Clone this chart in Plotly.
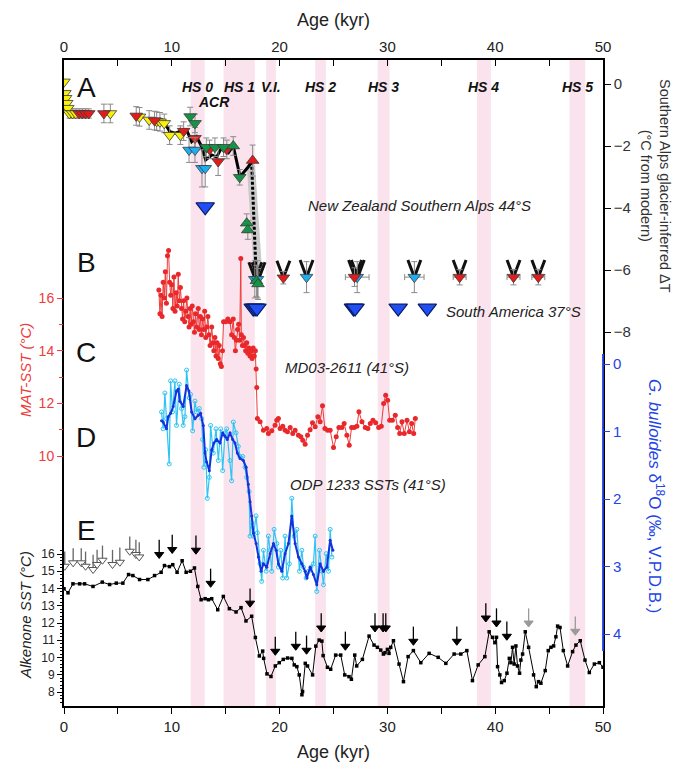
import numpy as np
import plotly.graph_objects as go

# ---------------- data ----------------
hs_labels = ["HS 0", "HS 1", "V.I.", "HS 2", "HS 3", "HS 4", "HS 5"]
hs_start = [11.75, 14.8, 18.75, 23.3, 29.1, 38.3, 46.9]
hs_end = [13.05, 17.7, 19.65, 24.3, 30.2, 39.6, 48.35]

# (A) New Zealand Southern Alps glacier-inferred dT (degC from modern)
nzY_age = [0.0, 0.08, 0.15, 0.25, 0.35, 0.5, 0.8, 1.1, 4.3, 7.0, 7.9, 8.6, 8.9, 9.3, 9.8, 10.8]
nzY_dt = [0.07, -0.30, -0.46, -0.62, -0.78, -0.95, -0.95, -0.95, -0.95, -1.06, -1.16, -1.20, -1.22, -1.27, -1.65, -1.65]
nzY_err = [0, 0, 0, 0, 0, 0.15, 0.15, 0.15, 0.3, 0.3, 0.3, 0.3, 0.3, 0.3, 0.3, 0.3]
nzR_age = [1.4, 1.7, 2.0, 2.3, 3.7, 6.7, 8.4, 11.1, 12.15, 13.5, 14.3, 15.1]
nzR_dt = [-0.95, -0.95, -0.95, -0.95, -0.95, -1.03, -1.18, -1.52, -1.75, -2.11, -2.50, -2.11]
nzR_err = [0.15, 0.15, 0.15, 0.15, 0.3, 0.3, 0.3, 0.3, 0.35, 0.3, 0.45, 0.3]
nzRup_age = [17.5]
nzRup_dt = [-2.47]
nzRup_err = [0.5]
nzG_age = [11.7, 12.15, 13.2, 14.0, 14.8, 16.3]
nzG_dt = [-1.05, -1.27, -2.04, -2.04, -2.04, -3.01]
nzG_err = [0.3, 0.3, 0.3, 0.3, 0.3, 0.25]
nzGup_age = [15.7, 16.95, 17.05]
nzGup_dt = [-2.0, -4.49, -4.71]
nzGup_err = [0.3, 0.3, 0.3]
nzC_age = [11.6, 12.15, 12.8, 13.1]
nzC_dt = [-2.13, -2.13, -2.72, -2.72]
nzC_err = [0.4, 0.4, 0.6, 0.6]
nz_mean_age = [8.3, 8.43, 8.9, 9.36, 9.82, 10.29, 10.9, 11.37, 11.84, 12.3, 12.77, 13.14, 13.7,
               14.16, 14.6, 15.25, 15.7, 16.33, 17.1, 17.4]
nz_mean_dt = [-1.18, -1.22, -1.24, -1.27, -1.54, -1.59, -1.51, -1.48, -1.86, -1.70, -2.02, -2.45, -2.29,
              -2.36, -2.07, -2.22, -2.0, -2.99, -2.67, -2.51]
drop_age = [17.4, 17.8]
drop_dt = [-2.51, -5.94]
env_age = [16.95, 17.72, 18.35, 17.57, 16.95]
env_dt = [-2.6, -2.6, -5.9, -5.9, -2.6]

# (B) glacier points at the LGM level
bC_age = [17.7, 17.95, 22.5, 27.2, 32.5]
bC_dt = [-6.3, -6.3, -6.23, -6.23, -6.23]
bC_err = [0.6, 0.6, 0.5, 0.5, 0.5]
bC_xerr = [0.3, 0.3, 0.0, 1.1, 0.9]
bR_age = [20.35, 26.95, 36.7, 41.7, 44.0]
bR_dt = [-6.25, -6.23, -6.23, -6.23, -6.23]
bR_err = [0.2, 0.3, 0.25, 0.25, 0.25]
bR_xerr = [0.0, 0.0, 0.6, 0.6, 0.6]
bG_age = [17.85, 18.0]
bG_dt = [-6.35, -6.45]
bG_err = [0.5, 0.5]
v_age = [17.75, 18.05, 20.35, 22.5, 27.0, 27.25, 32.5, 36.7, 41.7, 44.0]
v_dt = [-6.3, -6.3, -6.25, -6.23, -6.23, -6.23, -6.23, -6.23, -6.23, -6.23]
sa_age = [13.1, 17.55, 17.72, 17.9, 26.85, 27.0, 31.0, 33.7]
sa_dt = [-3.96, -7.23, -7.23, -7.23, -7.23, -7.23, -7.23, -7.23]

# (C) MD03-2611 MAT-SST (degC)
mat_age = [8.8, 8.9, 9.0, 9.1, 9.2, 9.3, 9.4, 9.5, 9.6, 9.7, 9.8, 9.9, 10.0, 10.1, 10.2, 10.3, 10.4,
           10.5, 10.6, 10.7, 10.8, 10.9, 11.0, 11.1, 11.2, 11.3, 11.4, 11.5, 11.6, 11.7, 11.8, 11.9,
           12.0, 12.1, 12.2, 12.3, 12.45, 12.55, 12.65, 12.75, 12.85, 12.95, 13.05, 13.15, 13.25,
           13.35, 13.45, 13.55, 13.7, 13.8, 13.9, 14.0, 14.1, 14.2, 14.3, 14.4, 14.5, 14.6, 14.7,
           14.8, 15.0, 15.2, 15.4, 15.55, 15.7, 15.8, 15.9, 16.0, 16.1, 16.2, 16.3, 16.4, 16.45,
           16.55, 16.65, 16.75, 16.85, 16.95, 17.05, 17.15, 17.25, 17.35, 17.45, 17.55, 17.65,
           17.75, 17.82, 17.88, 17.94,
           18.19, 18.50, 18.81, 18.96, 19.27, 19.58, 19.74, 19.89, 20.05, 20.29, 20.51, 20.73,
           20.98, 21.22, 21.44, 21.75, 21.97, 22.15, 22.37, 22.59, 22.83, 23.05, 23.30, 23.55,
           23.76, 23.98, 24.20, 24.45, 24.69, 25.00, 25.25, 25.50, 25.78, 25.99, 26.24, 26.46,
           26.68, 26.92, 27.17, 27.36, 27.64, 27.95, 28.19, 28.41, 28.66, 28.91, 29.19, 29.43,
           29.65, 29.84, 30.02, 30.21, 30.46, 30.73, 30.95, 31.14, 31.35, 31.57, 31.82, 32.04,
           32.25, 32.44, 32.59]
mat_sst = [16.3, 15.4, 16.1, 15.3, 16.6, 16.0, 17.0, 15.8, 17.6, 17.8, 16.6, 16.1, 16.5, 15.6, 16.8,
           15.5, 16.2, 15.7, 16.9, 15.9, 16.4, 15.6, 15.2, 15.9, 15.1, 15.5, 16.0, 15.3, 14.9, 15.6,
           15.0, 15.7, 15.1, 14.7, 15.4, 14.9, 15.6, 14.8, 15.3, 14.6, 15.2, 14.8, 15.5, 14.5, 14.9,
           15.3, 14.6, 14.2, 14.9, 14.3, 14.0, 14.5, 13.8, 14.3, 13.7, 14.2, 13.5, 13.4, 14.0, 15.1,
           15.1, 15.2, 15.1, 14.6, 15.2, 14.5, 14.0, 14.4, 14.8, 15.0, 14.4, 17.5, 14.6, 14.2, 14.5,
           14.2, 14.0, 14.3, 13.9, 14.1, 13.8, 14.0, 13.7, 14.1, 13.8, 14.0, 13.3, 12.6, 11.42,
           11.30, 10.98, 11.04, 10.85, 10.96, 11.17, 11.36, 11.42, 11.04, 11.13, 10.98, 10.92,
           11.08, 10.85, 10.98, 10.79, 10.73, 10.60, 10.45, 10.79, 11.00, 11.26, 11.11, 11.49,
           11.30, 11.91, 11.04, 10.98, 10.98, 10.32, 10.73, 11.08, 11.08, 11.23, 10.79, 10.41,
           11.08, 11.08, 11.13, 11.68, 11.30, 11.08, 11.04, 11.23, 11.36, 11.26, 11.08, 11.13,
           11.99, 12.31, 12.12, 11.36, 11.36, 11.55, 11.08, 10.85, 11.30, 10.85, 11.36, 10.92,
           11.23, 10.85, 11.42]

# (D) ODP 1233 G. bulloides d18O (permil VPDB): raw and smoothed
d18_age = [9.05, 9.20, 9.36, 9.51, 9.76, 9.89, 10.07, 10.29, 10.44, 10.69, 10.91, 11.06, 11.22,
           11.37, 11.62, 11.74, 11.93, 12.15, 12.30, 12.55, 12.77, 12.86, 12.98, 13.14, 13.29,
           13.48, 13.60, 13.85, 14.10, 14.32, 14.53, 14.72, 14.94, 15.09, 15.40, 15.55, 15.71,
           15.96, 16.17, 16.33, 16.58, 16.79, 16.95, 17.17, 17.26, 17.41, 17.57, 17.82, 17.94,
           18.19, 18.34, 18.50, 18.75, 18.96, 19.12, 19.27, 19.49, 19.74, 19.89, 20.11, 20.29,
           20.51, 20.67, 20.91, 21.13, 21.35, 21.60, 21.84, 22.06, 22.22, 22.46, 22.68, 22.90,
           23.14, 23.30, 23.45, 23.70, 23.92, 24.07, 24.32, 24.54, 24.69, 24.85]
d18_raw = [0.71, 0.96, 0.43, 0.81, 1.48, 0.25, 0.71, 0.25, 0.91, 0.30, 0.66, 0.91, 0.78, 0.09,
           0.50, 0.45, 0.99, 0.55, 0.71, 0.66, 0.81, 1.12, 1.53, 1.27, 1.99, 1.68, 0.91, 1.32,
           0.96, 1.43, 0.96, 1.58, 1.02, 0.96, 1.43, 1.73, 0.86, 1.02, 1.22, 1.37, 1.37, 1.53,
           1.68, 1.89, 2.55, 2.35, 2.55, 2.25, 2.50, 2.96, 3.22, 2.76, 3.07, 2.55, 2.76, 3.07,
           2.45, 2.66, 3.01, 2.76, 3.17, 2.55, 3.17, 2.96, 1.99, 2.55, 2.45, 3.07, 2.76, 3.01,
           3.17, 3.07, 3.01, 2.96, 2.55, 3.37, 2.76, 3.07, 3.27, 2.81, 3.07, 2.45, 2.86]
d18s_age = [9.05, 9.20, 9.51, 9.67, 9.89, 10.13, 10.44, 10.60, 10.75, 11.06, 11.37, 11.59, 11.84,
            12.15, 12.46, 12.67, 12.92, 13.08, 13.23, 13.48, 13.70, 13.91, 14.16, 14.47, 14.72,
            14.94, 15.15, 15.40, 15.65, 15.86, 16.08, 16.33, 16.64, 16.89, 17.10, 17.26, 17.41,
            17.57, 17.82, 18.03, 18.28, 18.50, 18.81, 19.12, 19.43, 19.68, 19.89, 20.20, 20.51,
            20.82, 21.13, 21.44, 21.75, 22.06, 22.37, 22.53, 22.84, 23.14, 23.45, 23.76, 24.07,
            24.38, 24.69, 24.94]
d18_smooth = [0.84, 0.86, 0.96, 0.78, 0.73, 0.63, 0.40, 0.37, 0.55, 0.63, 0.32, 0.40, 0.71, 0.81,
              0.76, 0.73, 0.91, 1.32, 1.45, 1.58, 1.27, 1.17, 1.12, 1.17, 1.02, 1.07, 1.12, 1.02,
              1.12, 1.17, 1.32, 1.40, 1.43, 1.53, 1.78, 2.04, 2.25, 2.50, 2.66, 2.86, 3.07, 2.96,
              3.01, 2.81, 2.66, 2.76, 2.96, 3.07, 2.81, 2.66, 2.25, 2.66, 2.86, 2.96, 3.07, 3.17,
              3.01, 3.12, 3.27, 2.96, 3.07, 3.01, 2.61, 2.76]

# (E) Alkenone SST (degC)
alk_age = [0.0, 0.37, 0.83, 1.45, 1.91, 2.69, 3.55, 4.23, 4.85, 5.46, 5.99, 6.39, 7.01, 7.78, 8.40,
           9.01, 9.32, 9.78, 10.09, 10.49, 10.96, 11.33, 11.73, 12.10, 12.41, 12.72, 13.09, 13.40,
           13.70, 14.26, 14.78, 15.34, 15.96, 16.42, 16.88, 17.41, 17.75, 18.12, 18.43, 18.52,
           18.83, 19.20, 19.60, 19.97, 20.34, 20.74, 21.14, 21.36, 21.60, 21.82, 22.07, 22.13,
           22.38, 22.59, 23.06, 23.36, 23.67, 23.92, 24.04, 24.44, 24.74, 25.20, 25.67, 26.04,
           26.44, 26.66, 26.97, 27.15, 27.68, 28.30, 28.76, 29.07, 29.38, 29.63, 29.78, 30.00,
           30.15, 30.31, 30.56, 31.08, 31.49, 31.92, 32.41, 33.10, 33.87, 34.71, 35.42, 36.19,
           36.81, 37.37, 37.89, 38.42, 39.04, 39.44, 39.75, 39.97, 40.12, 40.22, 40.43, 40.59,
           40.84, 41.09, 41.31, 41.46, 41.61, 41.76, 41.92, 42.07, 42.26, 42.38, 42.54, 42.79,
           43.10, 43.56, 43.81, 44.02, 44.24, 44.64, 44.92, 45.17, 45.42, 45.63, 45.79, 46.01,
           46.32, 46.72, 47.18, 47.49, 47.89, 48.33, 48.73, 49.20, 49.66, 50.0]
alk_sst = [13.98, 13.75, 14.27, 14.27, 14.27, 14.12, 14.37, 14.23, 14.31, 14.31, 14.81, 14.75, 14.52,
           14.52, 14.75, 14.94, 15.33, 15.27, 15.38, 14.94, 15.61, 14.94, 15.00, 15.19, 14.12, 13.35,
           13.41, 13.35, 13.41, 12.77, 13.54, 12.83, 12.64, 12.89, 12.12, 12.39, 11.16, 10.09, 10.37,
           9.95, 9.05, 8.90, 9.51, 9.70, 9.89, 9.97, 9.95, 9.57, 9.47, 8.99, 7.84, 8.03, 9.66, 9.51,
           8.99, 10.66, 11.01, 10.95, 10.11, 9.43, 9.32, 10.14, 10.14, 8.99, 8.89, 8.74, 10.14, 9.51,
           9.89, 11.24, 10.72, 10.59, 10.43, 10.20, 10.28, 10.47, 10.24, 10.59, 10.97, 9.62, 8.60,
           10.05, 10.40, 9.70, 10.24, 10.01, 9.66, 10.20, 10.20, 10.40, 8.66, 9.57, 10.05, 11.49,
           11.17, 10.86, 11.17, 9.47, 8.99, 8.55, 8.66, 9.09, 9.95, 9.70, 10.59, 9.62, 10.67, 9.51,
           9.09, 9.85, 10.20, 11.49, 10.59, 8.99, 8.31, 8.60, 8.51, 9.24, 10.40, 10.59, 10.67, 11.20,
           11.82, 11.74, 10.40, 9.51, 10.34, 10.72, 10.97, 9.85, 9.13, 9.62, 9.70, 9.43]
# age-control arrows (tip positions on the alkenone scale)
arrOpen_age = [0.07, 0.85, 1.6, 2.0, 2.7, 3.07, 3.57, 4.5, 5.18, 6.1, 6.67, 6.98]
arrOpen_tip = [15.07, 15.27, 15.27, 15.07, 14.88, 15.17, 15.42, 15.17, 15.3, 15.94, 15.75, 15.61]
arrBlk_age = [8.83, 10.04, 12.24, 13.6, 17.26, 19.6, 21.5, 22.5, 23.86, 26.1, 28.85, 29.6, 29.85,
              32.41, 36.44, 39.13, 40.12, 41.08]
arrBlk_tip = [15.75, 16.04, 16.0, 14.08, 12.93, 10.14, 10.43, 10.2, 11.49, 10.43, 11.49, 11.49,
              11.49, 10.72, 10.72, 12.07, 11.78, 11.01]
arrGry_age = [43.1, 47.43]
arrGry_tip = [11.78, 11.3]

# ---------------- layout geometry ----------------
W, H = 678, 766
L, R, T, B = 64, 603, 60, 706


def xp(px):
    return (px - L) / (R - L)


def yp(py):
    return (B - py) / (B - T)


def yrange(v1, p1, v2, p2):
    k = (p2 - p1) / (v2 - v1)
    return [v1 + (B - p1) / k, v1 + (T - p1) / k]


rng_dt = yrange(0, 84, -8, 332)
rng_mat = yrange(16, 298, 10, 456)
rng_d18 = yrange(0, 364, 4, 634)
rng_alk = yrange(16, 554, 8, 692)

FONT = "Liberation Sans, Arial, sans-serif"
RED = "#ee3b3b"
BLUE = "#2443e6"
CYAN = "#2fc4f4"

fig = go.Figure()

for s, e in zip(hs_start, hs_end):
    fig.add_shape(type="rect", xref="x", yref="paper", x0=s, x1=e, y0=0, y1=1,
                  fillcolor="#fae3ec", line_width=0, layer="below")

# --- C: MAT-SST
fig.add_trace(go.Scatter(x=mat_age, y=mat_sst, yaxis="y2", mode="lines+markers",
                         line=dict(color=RED, width=1),
                         marker=dict(color="#e8282b", size=5)))

# --- D: d18O raw + smoothed
fig.add_trace(go.Scatter(x=d18_age, y=d18_raw, yaxis="y3", mode="lines+markers",
                         line=dict(color=CYAN, width=1.2),
                         marker=dict(symbol="circle-open", color=CYAN, size=4, line=dict(width=1))))
fig.add_trace(go.Scatter(x=d18s_age, y=d18_smooth, yaxis="y3", mode="lines+markers",
                         line=dict(color="#1533dd", width=2),
                         marker=dict(color="#1533dd", size=3)))

# --- E: alkenone
fig.add_trace(go.Scatter(x=alk_age, y=alk_sst, yaxis="y4", mode="lines+markers",
                         line=dict(color="black", width=1),
                         marker=dict(symbol="square", color="black", size=3.5)))


def arrows(ages, tips, fill, edge, stem):
    n = len(ages)
    fig.add_trace(go.Scatter(
        x=ages, y=[t + 0.22 for t in tips], yaxis="y4", mode="markers",
        marker=dict(symbol="triangle-down", size=8, color=fill, line=dict(color=edge, width=1)),
        error_y=dict(type="data", symmetric=False, array=[0.85] * n, arrayminus=[0] * n,
                     width=0, thickness=1.3, color=stem)))


arrows(arrOpen_age, arrOpen_tip, "white", "#555555", "#666666")
arrows(arrBlk_age, arrBlk_tip, "black", "black", "black")
arrows(arrGry_age, arrGry_tip, "#9a9a9a", "#9a9a9a", "#9a9a9a")

# --- A: envelope, mean line, dotted drop
fig.add_trace(go.Scatter(x=env_age, y=env_dt, yaxis="y", mode="lines", fill="toself",
                         fillcolor="#c9c9c9", line=dict(width=0)))
fig.add_trace(go.Scatter(x=drop_age, y=drop_dt, yaxis="y", mode="lines",
                         line=dict(color="black", width=3, dash="3px,2px")))
fig.add_trace(go.Scatter(x=nz_mean_age, y=nz_mean_dt, yaxis="y", mode="lines",
                         line=dict(color="black", width=3)))

# V marks above LGM points
vx, vy = [], []
for a, d in zip(v_age, v_dt):
    vx += [a - 0.6, a, a + 0.6, None]
    vy += [d + 0.55, d, d + 0.55, None]
fig.add_trace(go.Scatter(x=vx, y=vy, yaxis="y", mode="lines",
                         line=dict(color="#111111", width=3)))
fig.add_trace(go.Scatter(x=[17.7, 17.7], y=[-5.7, -6.25], yaxis="y", mode="lines",
                         line=dict(color="#111111", width=3)))

EB = dict(type="data", color="#8a8a8a", thickness=1, width=3)


def tri(ages, dts, errs, color, symbol="triangle-down", size=11, xerr=None):
    kw = {}
    if xerr is not None:
        kw["error_x"] = dict(EB, array=xerr)
    fig.add_trace(go.Scatter(x=ages, y=dts, yaxis="y", mode="markers",
                             marker=dict(symbol=symbol, size=size, color=color,
                                         line=dict(color="#3a3a3a", width=0.8)),
                             error_y=dict(EB, array=errs), **kw))


tri(nzY_age, nzY_dt, nzY_err, "#f7ef0c")
tri(nzR_age, nzR_dt, nzR_err, "#e41b1b")
tri(nzC_age, nzC_dt, nzC_err, "#1eaef0")
tri(nzG_age, nzG_dt, nzG_err, "#139447")
tri(nzGup_age, nzGup_dt, nzGup_err, "#139447", symbol="triangle-up")
tri(nzRup_age, nzRup_dt, nzRup_err, "#e41b1b", symbol="triangle-up")
tri(bC_age, bC_dt, bC_err, "#1eaef0", xerr=bC_xerr)
tri(bR_age, bR_dt, bR_err, "#e41b1b", xerr=bR_xerr)
tri(bG_age, bG_dt, bG_err, "#139447", symbol="triangle-up")

fig.add_trace(go.Scatter(x=sa_age, y=sa_dt, yaxis="y", mode="markers",
                         marker=dict(symbol="triangle-down", size=16, color="#1f4ff5",
                                     line=dict(color="#0a1a60", width=1.2))))

# register top axis
fig.add_trace(go.Scatter(x=[0, 50], y=[None, None], xaxis="x2", yaxis="y", mode="lines"))

# ---------------- axes ----------------
axis_common = dict(showgrid=False, zeroline=False)
fig.update_layout(
    width=W, height=H,
    margin=dict(l=L, r=W - R, t=T, b=H - B, pad=0),
    paper_bgcolor="white", plot_bgcolor="white",
    showlegend=False,
    font=dict(family=FONT, color="#222222"),
    xaxis=dict(axis_common, range=[0, 50], tickvals=[0, 10, 20, 30, 40, 50],
               ticks="outside", ticklen=6, tickwidth=1.2, tickcolor="black",
               showline=True, linecolor="black", linewidth=1.5,
               minor=dict(tickvals=[5, 15, 25, 35, 45], ticks="outside", ticklen=6,
                          tickcolor="black", tickwidth=1.2),
               tickfont=dict(size=15)),
    xaxis2=dict(axis_common, range=[0, 50], overlaying="x", side="top", anchor="y",
                tickvals=[0, 10, 20, 30, 40, 50], ticks="inside", ticklen=6, tickwidth=1.2,
                tickcolor="black", showline=True, linecolor="black", linewidth=1.5,
                minor=dict(tickvals=[5, 15, 25, 35, 45], ticks="inside", ticklen=6,
                           tickcolor="black", tickwidth=1.2),
                tickfont=dict(size=15)),
    yaxis=dict(axis_common, range=rng_dt, side="right", anchor="x",
               tickvals=[0, -2, -4, -6, -8], ticks="outside", ticklen=6, tickcolor="black",
               showline=True, mirror=True, linecolor="black", linewidth=1.5,
               tickfont=dict(size=15, color="#333333")),
    yaxis2=dict(axis_common, range=rng_mat, overlaying="y", side="left", anchor="x",
                tickvals=[10, 12, 14, 16], ticks="outside", ticklen=6, tickcolor=RED,
                minor=dict(tickvals=[11, 13, 15], ticks="outside", ticklen=4, tickcolor=RED),
                showline=False, tickfont=dict(size=14, color=RED)),
    yaxis3=dict(axis_common, range=rng_d18, overlaying="y", side="right", anchor="x",
                tickvals=[0, 1, 2, 3, 4], ticks="outside", ticklen=6, tickcolor=BLUE,
                showline=False, tickfont=dict(size=15, color=BLUE)),
    yaxis4=dict(axis_common, range=rng_alk, overlaying="y", side="left", anchor="x",
                tickvals=list(range(8, 17)), ticks="outside", ticklen=6, tickcolor="black",
                minor=dict(tickvals=[round(v, 1) for v in np.arange(7.4, 16.25, 0.2)
                                     if abs(v - round(v)) > 0.05],
                           ticks="outside", ticklen=3, tickcolor="black"),
                showline=False, tickfont=dict(size=12, color="#222222")),
)

# blue segment of right spine
fig.add_shape(type="line", xref="paper", yref="y3", x0=1, x1=1, y0=-0.15, y1=4.25,
              line=dict(color=BLUE, width=1.8), layer="above")

# ---------------- annotations ----------------
ann = []


def text(x, y, s, size=14, color="#222222", angle=0, xanchor="center", yanchor="middle"):
    ann.append(dict(x=x, y=y, xref="paper", yref="paper", text=s, showarrow=False,
                    font=dict(size=size, color=color, family=FONT), textangle=angle,
                    xanchor=xanchor, yanchor=yanchor))


text(xp(333), yp(20), "Age (kyr)", size=18)
text(xp(333), yp(752), "Age (kyr)", size=18)

for lab, s, e in zip(hs_labels, hs_start, hs_end):
    ann.append(dict(x=(s + e) / 2, y=yp(77), xref="x", yref="paper",
                    text="<b><i>" + lab + "</i></b>", showarrow=False,
                    font=dict(size=14, color="#111111",
                              family="Liberation Sans Narrow, Liberation Sans, sans-serif")))

for lab, py in zip(["A", "B", "C", "D", "E"], [87, 262, 352, 437, 530]):
    text(xp(86), yp(py), lab, size=28, color="#111111")

text(xp(214), yp(102), "<b><i>ACR</i></b>", size=14, color="#111111")
text(xp(306), yp(205), "<i>New Zealand Southern Alps 44°S</i>", size=15, xanchor="left")
text(xp(444), yp(311), "<i>South America 37°S</i>", size=15, xanchor="left")
text(xp(283), yp(367), "<i>MD03-2611 (41°S)</i>", size=15, xanchor="left")
text(xp(288), yp(484), "<i>ODP 1233 SSTs (41°S)</i>", size=15, xanchor="left")

text(xp(25), yp(370), "<i>MAT-SST (°C)</i>", size=15, color=RED, angle=-90)
text(xp(25), yp(615), "<i>Alkenone SST (°C)</i>", size=15, color="#222222", angle=-90)
text(xp(656), yp(186), "Southern Alps glacier-inferred ΔT<br>(°C from modern)", size=14.5,
     color="#333333", angle=90)
text(xp(656), yp(496), "<i>G. bulloides</i> δ<sup>18</sup>O (‰, V.P.D.B.)", size=17,
     color=BLUE, angle=90)

fig.update_layout(annotations=ann)

fig.write_html("out.html")
